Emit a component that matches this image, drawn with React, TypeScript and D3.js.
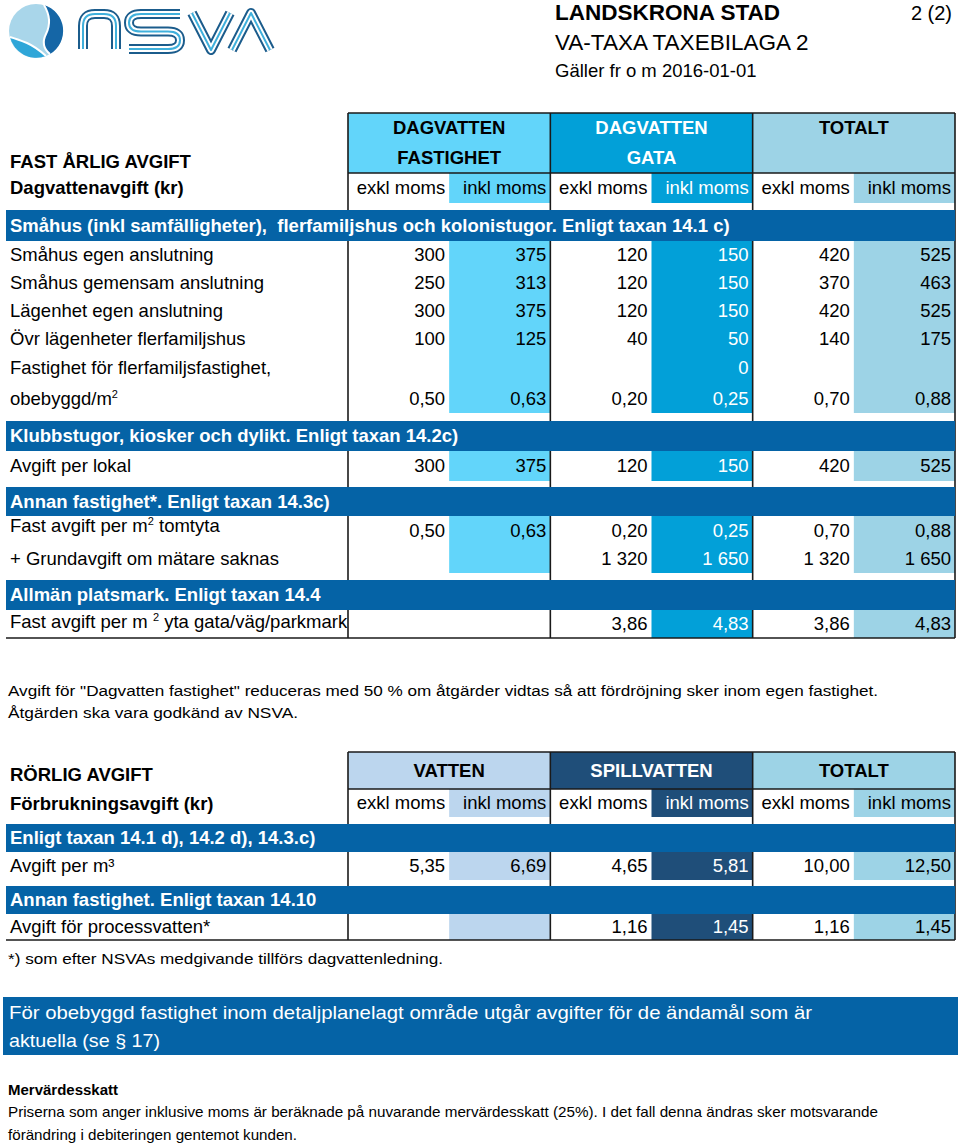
import React from "react";
import * as d3 from "d3";

// column groups
const fastGroups = [["DAGVATTEN", "FASTIGHET"], ["DAGVATTEN", "GATA"], ["TOTALT"]];
const rorligGroups = [["VATTEN"], ["SPILLVATTEN"], ["TOTALT"]];
const subHeads = ["exkl moms", "inkl moms"];

// fast årlig avgift (exkl / inkl per group)
const smahusEgen = [300, 375, 120, 150, 420, 525];
const smahusGemensam = [250, 313, 120, 150, 370, 463];
const lagenhetEgen = [300, 375, 120, 150, 420, 525];
const ovrLagenheter = [100, 125, 40, 50, 140, 175];
const obebyggd = [0.5, 0.63, 0.2, 0.25, 0.7, 0.88];
const obebyggdTop = [null, null, null, 0, null, null];
const perLokal = [300, 375, 120, 150, 420, 525];
const tomtyta = [0.5, 0.63, 0.2, 0.25, 0.7, 0.88];
const grundavgift = [null, null, 1320, 1650, 1320, 1650];
const platsmark = [null, null, 3.86, 4.83, 3.86, 4.83];

// rörlig avgift
const perKubik = [5.35, 6.69, 4.65, 5.81, 10.0, 12.5];
const processvatten = [null, null, 1.16, 1.45, 1.16, 1.45];

const sv = d3.formatLocale({ decimal: ",", thousands: " ", grouping: [3], currency: ["", " kr"] });
const fmt0 = sv.format(",.0f");
const fmt2 = sv.format(",.2f");

const BAND = "#0563a6";
const FONT = "'Liberation Sans', Arial, sans-serif";
const NARROW = "'Liberation Sans Narrow', 'Liberation Sans', Arial, sans-serif";
const FS = 18.5;

const fastBody = [
  { band: "Småhus (inkl samfälligheter),  flerfamiljshus och kolonistugor. Enligt taxan 14.1 c)", gap: 7, h: 31 },
  { label: ["Småhus egen anslutning"], values: smahusEgen, dec: 0, h: 28 },
  { label: ["Småhus gemensam anslutning"], values: smahusGemensam, dec: 0, h: 28 },
  { label: ["Lägenhet egen anslutning"], values: lagenhetEgen, dec: 0, h: 28 },
  { label: ["Övr lägenheter flerfamiljshus"], values: ovrLagenheter, dec: 0, h: 28 },
  { label: ["Fastighet för flerfamiljsfastighet,", "obebyggd/m^2"], values: obebyggd, top: obebyggdTop, dec: 2, h: 60 },
  { band: "Klubbstugor, kiosker och dylikt. Enligt taxan 14.2c)", gap: 8, h: 30 },
  { label: ["Avgift per lokal"], values: perLokal, dec: 0, h: 30 },
  { band: "Annan fastighet*. Enligt taxan 14.3c)", gap: 6, h: 29 },
  { label: ["Fast avgift per m^2 tomtyta"], values: tomtyta, dec: 2, h: 29, labelDy: -4.5 },
  { label: ["+ Grundavgift om mätare saknas"], values: grundavgift, dec: 0, h: 28 },
  { band: "Allmän platsmark. Enligt taxan 14.4", gap: 7, h: 30 },
  { label: ["Fast avgift per m ^2 yta gata/väg/parkmark"], values: platsmark, dec: 2, h: 28, labelDy: -2, skipFill: [0] },
];

const rorligBody = [
  { band: "Enligt taxan 14.1 d), 14.2 d), 14.3.c)", gap: 7, h: 28 },
  { label: ["Avgift per m³"], values: perKubik, dec: 2, h: 28 },
  { band: "Annan fastighet. Enligt taxan 14.10", gap: 6, h: 28 },
  { label: ["Avgift för processvatten*"], values: processvatten, dec: 2, h: 26 },
];

const Label = ({ s }: { s: string }) => {
  const parts = s.split(/\^(\d)/);
  return (
    <>
      {parts.map((p, i) =>
        i % 2 === 1 ? (
          <tspan key={i} fontSize={11} baselineShift="65%">{p}</tspan>
        ) : (
          <tspan key={i}>{p}</tspan>
        )
      )}
    </>
  );
};

function Table({ top, groups, colors, inks, headH, subH, body, titles, headTopAlign }: any) {
  const x = d3.scaleBand<number>().domain(d3.range(6)).range([348, 955]);
  const bw = x.bandwidth();
  const subTop = top + headH;
  let y = subTop + subH;
  const rows = body.map((r: any) => {
    y += r.gap || 0;
    const p = { ...r, y0: y };
    y += r.h;
    return p;
  });
  const bottom = y;
  const cell = (v: number | null, dec: number) => (v == null ? "" : dec ? fmt2(v) : fmt0(v));
  const vlines = [348, x(2)!, x(4)!, 955];
  const ink = (c: number) => (c % 2 ? inks[Math.floor(c / 2)] : "#000");

  return (
    <g>
      {titles.map((t: any, i: number) => (
        <text key={i} x={10} y={t.cy} dy="0.35em" fontWeight="bold" fontSize={FS}>{t.text}</text>
      ))}
      {groups.map((g: string[], gi: number) => (
        <g key={gi}>
          <rect x={x(gi * 2)} y={top} width={bw * 2} height={headH} fill={colors[gi]} />
          <rect x={x(gi * 2 + 1)} y={subTop} width={bw} height={subH} fill={colors[gi]} />
        </g>
      ))}
      {rows.filter((r: any) => !r.band).map((r: any, ri: number) =>
        groups.map((_: any, gi: number) =>
          (r.skipFill || []).includes(gi) ? null : (
            <rect key={ri + "-" + gi} x={x(gi * 2 + 1)} y={r.y0} width={bw} height={r.h} fill={colors[gi]} />
          )
        )
      )}
      {vlines.map((vx, i) => (
        <line key={i} x1={vx} x2={vx} y1={top} y2={bottom} stroke="#1a1a1a" strokeWidth={1.6} />
      ))}
      <line x1={348} x2={955} y1={top} y2={top} stroke="#1a1a1a" strokeWidth={1.6} />
      <line x1={348} x2={955} y1={subTop} y2={subTop} stroke="#1a1a1a" strokeWidth={1.6} />
      <line x1={6} x2={955} y1={bottom} y2={bottom} stroke="#1a1a1a" strokeWidth={1.6} />
      {groups.map((g: string[], gi: number) => {
        const cx = x(gi * 2)! + bw;
        return (
          <g key={gi} fill={inks[gi]} fontWeight="bold" fontSize={FS} textAnchor="middle">
            {g.map((line, li) => (
              <text key={li} x={cx} y={top + (headTopAlign ? 15 + li * 30 : headH / 2)} dy="0.35em">{line}</text>
            ))}
          </g>
        );
      })}
      {d3.range(6).map((c) => (
        <text key={c} x={x(c)! + bw - 4} y={subTop + subH / 2} dy="0.35em" textAnchor="end" fontSize={FS} fill={ink(c)}>
          {subHeads[c % 2]}
        </text>
      ))}
      {rows.map((r: any, ri: number) => {
        if (r.band) {
          return (
            <g key={ri}>
              <rect x={6} y={r.y0} width={949} height={r.h} fill={BAND} />
              <text x={10} y={r.y0 + r.h / 2} dy="0.35em" fill="#fff" fontWeight="bold" fontSize={FS}
                style={{ whiteSpace: "pre" }}>{r.band}</text>
            </g>
          );
        }
        const multi = r.label.length > 1;
        const lineCy = (li: number) => (multi ? r.y0 + 15 + li * 31 : r.y0 + r.h / 2);
        const valCy = lineCy(r.label.length - 1);
        return (
          <g key={ri} fontSize={FS}>
            {r.label.map((l: string, li: number) => (
              <text key={li} x={10} y={lineCy(li) + (r.labelDy || 0)} dy="0.35em" style={{ whiteSpace: "pre" }}>
                <Label s={l} />
              </text>
            ))}
            {r.values.map((v: number | null, c: number) => (
              <text key={c} x={x(c)! + bw - 4} y={valCy} dy="0.35em" textAnchor="end" fill={ink(c)}>{cell(v, r.dec)}</text>
            ))}
            {r.top && r.top.map((v: number | null, c: number) => (
              <text key={"t" + c} x={x(c)! + bw - 4} y={lineCy(0)} dy="0.35em" textAnchor="end" fill={ink(c)}>{cell(v, 0)}</text>
            ))}
          </g>
        );
      })}
    </g>
  );
}

const Logo = () => (
  <g>
    <circle cx={36} cy={31} r={27} fill="#a9d6ea" />
    <path d="M44 5 A27 27 0 0 1 50 54 Q40 46 46 34 Q53 20 44 5 Z" fill="#1566a6" />
    <path d="M10 37 A27 27 0 0 0 46 56 Q36 47 27 43 Q17 39 10 37 Z" fill="#2fa6d8" />
    <path d="M44 5 Q53 20 46 34 Q40 46 50 54" fill="none" stroke="#fff" strokeWidth={2} />
    <path d="M10 37 Q17 39 27 43 Q36 47 46 56" fill="none" stroke="#fff" strokeWidth={2} />
    {[
      "M83 49 V26 Q83 14 95 14 H104 Q116 14 116 26 V49",
      "M180 14 H141 Q129 14 129 22.7 Q129 31.5 141 31.5 H168 Q180 31.5 180 40.2 Q180 49 168 49 H129",
      "M192 13 L211 50 L230 13",
      "M232 50 L251 13 L270 50",
    ].map((d, i) => (
      <g key={i} fill="none" strokeLinejoin="round">
        <path d={d} stroke="#1b5c8c" strokeWidth={10} />
        <path d={d} stroke="#fff" strokeWidth={6} />
        <path d={d} stroke="#3fb0dc" strokeWidth={2} />
      </g>
    ))}
  </g>
);

export default function App() {
  return (
    <svg width={960} height={1145} style={{ position: "absolute", left: 0, top: 0, background: "#fff" }}
      fontFamily={FONT}>
      <rect width={960} height={1145} fill="#fff" />
      <Logo />
      <text x={555} y={12.5} dy="0.35em" fontWeight="bold" fontSize={22.5}>LANDSKRONA STAD</text>
      <text x={555} y={42} dy="0.35em" fontSize={22.5}>VA-TAXA TAXEBILAGA 2</text>
      <text x={555} y={70.5} dy="0.35em" fontSize={18.5}>Gäller fr o m 2016-01-01</text>
      <text x={952} y={12.5} dy="0.35em" fontSize={20} textAnchor="end">2 (2)</text>

      <Table top={113} groups={fastGroups} colors={["#62d5fa", "#02a0d8", "#9dd3e6"]} inks={["#000", "#fff", "#000"]}
        headH={60} subH={30} body={fastBody} headTopAlign
        titles={[{ text: "FAST ÅRLIG AVGIFT", cy: 162 }, { text: "Dagvattenavgift (kr)", cy: 188 }]} />

      <text x={8} y={691} dy="0.35em" fontSize={15.5} textLength={870} lengthAdjust="spacingAndGlyphs">
        Avgift för "Dagvatten fastighet" reduceras med 50 % om åtgärder vidtas så att fördröjning sker inom egen fastighet.
      </text>
      <text x={8} y={713} dy="0.35em" fontSize={15.5} textLength={290} lengthAdjust="spacingAndGlyphs">
        Åtgärden ska vara godkänd av NSVA.
      </text>

      <Table top={752} groups={rorligGroups} colors={["#bcd6ee", "#1f4e79", "#9dd3e6"]} inks={["#000", "#fff", "#000"]}
        headH={37} subH={28} body={rorligBody}
        titles={[{ text: "RÖRLIG AVGIFT", cy: 775 }, { text: "Förbrukningsavgift (kr)", cy: 804 }]} />

      <text x={8} y={959} dy="0.35em" fontSize={15.5} textLength={435} lengthAdjust="spacingAndGlyphs">
        *) som efter NSVAs medgivande tillförs dagvattenledning.
      </text>

      <rect x={3} y={997} width={955} height={58} fill={BAND} />
      <g fontFamily={NARROW} fill="#fff" fontSize={19}>
        <text x={9} y={1012} dy="0.35em" textLength={803} lengthAdjust="spacingAndGlyphs">
          För obebyggd fastighet inom detaljplanelagt område utgår avgifter för de ändamål som är
        </text>
        <text x={9} y={1040} dy="0.35em" textLength={151} lengthAdjust="spacingAndGlyphs">aktuella (se § 17)</text>
      </g>
      <g fontFamily={NARROW} fontSize={14.5}>
        <text x={8} y={1090} dy="0.35em" fontWeight="bold" textLength={110} lengthAdjust="spacingAndGlyphs">Mervärdesskatt</text>
        <text x={8} y={1112} dy="0.35em" textLength={870} lengthAdjust="spacingAndGlyphs">
          Priserna som anger inklusive moms är beräknade på nuvarande mervärdesskatt (25%). I det fall denna ändras sker motsvarande
        </text>
        <text x={8} y={1135} dy="0.35em" textLength={289} lengthAdjust="spacingAndGlyphs">
          förändring i debiteringen gentemot kunden.
        </text>
      </g>
    </svg>
  );
}
